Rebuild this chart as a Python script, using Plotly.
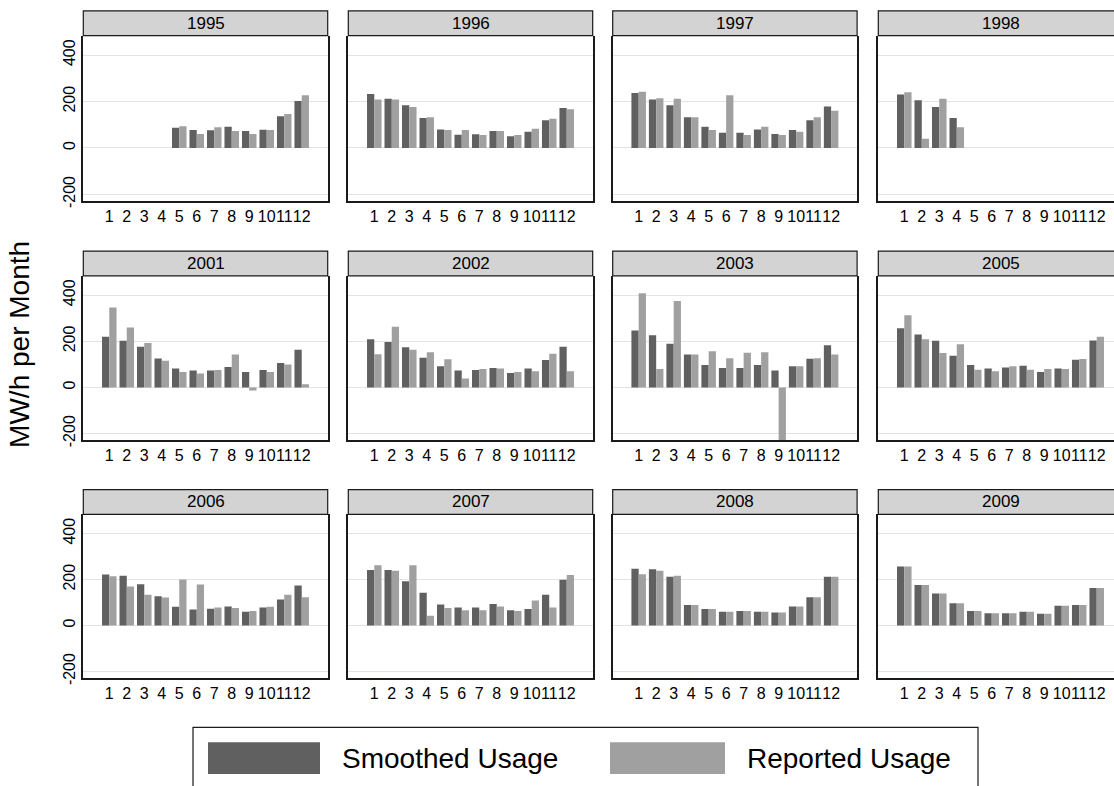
import plotly.graph_objects as go

W, H = 1114, 786

months = list(range(1, 13))
month_labels = [str(m) for m in months]
years = ["1995", "1996", "1997", "1998", "2001", "2002",
         "2003", "2005", "2006", "2007", "2008", "2009"]

# Monthly usage, MW/h per month (None = no observation)
smoothed_1995 = [None, None, None, None, 87, 77, 76, 92, 73, 79, 137, 202]
reported_1995 = [None, None, None, None, 94, 60, 89, 73, 60, 77, 146, 227]
smoothed_1996 = [233, 212, 184, 129, 80, 57, 59, 73, 51, 70, 120, 172]
reported_1996 = [209, 209, 177, 132, 77, 77, 56, 73, 56, 83, 126, 167]
smoothed_1997 = [237, 209, 184, 132, 92, 66, 66, 80, 60, 77, 120, 179]
reported_1997 = [242, 214, 212, 132, 77, 227, 56, 92, 56, 70, 132, 160]
smoothed_1998 = [230, 206, 177, 129, None, None, None, None, None, None, None, None]
reported_1998 = [240, 40, 212, 89, None, None, None, None, None, None, None, None]
smoothed_2001 = [220, 202, 177, 126, 82, 73, 73, 89, 67, 76, 106, 164]
reported_2001 = [347, 260, 193, 116, 67, 61, 76, 143, -13, 67, 100, 14]
smoothed_2002 = [209, 197, 174, 129, 92, 73, 76, 84, 63, 82, 119, 177]
reported_2002 = [144, 263, 164, 153, 122, 39, 80, 82, 67, 70, 146, 70]
smoothed_2003 = [247, 226, 189, 143, 97, 84, 84, 97, 73, 92, 124, 183]
reported_2003 = [408, 80, 375, 143, 157, 127, 150, 153, -320, 92, 127, 143]
smoothed_2005 = [257, 230, 202, 137, 97, 82, 86, 94, 67, 82, 120, 204]
reported_2005 = [313, 209, 149, 187, 77, 70, 92, 77, 80, 80, 123, 220]
smoothed_2006 = [222, 217, 180, 127, 82, 70, 73, 83, 60, 79, 113, 174]
reported_2006 = [215, 170, 134, 122, 200, 179, 79, 76, 63, 82, 134, 123]
smoothed_2007 = [242, 242, 193, 143, 92, 79, 79, 94, 67, 72, 134, 199]
reported_2007 = [263, 239, 263, 43, 76, 67, 67, 83, 63, 109, 79, 220]
smoothed_2008 = [247, 245, 212, 89, 72, 60, 63, 60, 57, 83, 123, 212]
reported_2008 = [223, 239, 217, 89, 72, 60, 63, 60, 57, 83, 123, 212]
smoothed_2009 = [257, 177, 140, 97, 63, 54, 54, 60, 51, 86, 89, 163]
reported_2009 = [257, 177, 140, 97, 63, 54, 54, 60, 51, 86, 89, 163]

smoothed = [smoothed_1995, smoothed_1996, smoothed_1997, smoothed_1998,
            smoothed_2001, smoothed_2002, smoothed_2003, smoothed_2005,
            smoothed_2006, smoothed_2007, smoothed_2008, smoothed_2009]
reported = [reported_1995, reported_1996, reported_1997, reported_1998,
            reported_2001, reported_2002, reported_2003, reported_2005,
            reported_2006, reported_2007, reported_2008, reported_2009]

y_ticks = [-200, 0, 200, 400]
y_tick_labels = ["-200", "0", "200", "400"]
y_range = [-228, 484]

DARK = "#606060"
LIGHT = "#a0a0a0"
FONT = "Liberation Sans, Arial, Helvetica, sans-serif"

# Panel geometry in pixels
col_left = [83.3, 348.3, 612.7, 878.3]
panel_w = 244.4
row_top = [36.0, 278.3, 519.0]
row_bot = [202.7, 444.0, 684.0]
strip_h = 25.0
x_span = 13.97
x0 = -0.485


def px(x):
    return x / W


def py(y):
    return 1 - y / H


fig = go.Figure()
layout = dict(
    width=W, height=H,
    margin=dict(l=0, r=0, t=0, b=0),
    paper_bgcolor="white", plot_bgcolor="white",
    barmode="group", bargap=0.17, bargroupgap=0,
    showlegend=False,
    font=dict(family=FONT, color="black"),
)
shapes = []
annotations = []

for i, year in enumerate(years):
    r, c = divmod(i, 4)
    n = i + 1
    xa = "x" if n == 1 else f"x{n}"
    ya = "y" if n == 1 else f"y{n}"
    fig.add_trace(go.Bar(x=months, y=smoothed[i], xaxis=xa, yaxis=ya,
                         marker=dict(color=DARK, line=dict(width=0)),
                         offsetgroup="s", name="Smoothed Usage"))
    fig.add_trace(go.Bar(x=months, y=reported[i], xaxis=xa, yaxis=ya,
                         marker=dict(color=LIGHT, line=dict(width=0)),
                         offsetgroup="r", name="Reported Usage"))

    left = col_left[c]
    right = min(left + panel_w, W)
    vis_span = x_span * (right - left) / panel_w
    xkey = "xaxis" if n == 1 else f"xaxis{n}"
    ykey = "yaxis" if n == 1 else f"yaxis{n}"
    layout[xkey] = dict(
        domain=[px(left), px(right)], anchor=ya,
        range=[x0, x0 + vis_span], tickmode="array",
        tickvals=months, ticktext=month_labels, tickangle=0,
        tickfont=dict(size=16, family=FONT, color="black"),
        showgrid=False, zeroline=False, ticks="",
        showline=True, linecolor="#1a1a1a", linewidth=1.5,
        fixedrange=True,
    )
    layout[ykey] = dict(
        domain=[py(row_bot[r]), py(row_top[r])], anchor=xa,
        range=y_range, tickmode="array", tickvals=y_ticks,
        ticktext=y_tick_labels,
        showticklabels=(c == 0), tickangle=-90,
        tickfont=dict(size=16, family=FONT, color="black"),
        showgrid=True, gridcolor="#e3e3e3", gridwidth=1,
        zeroline=False, ticks="",
        showline=True, linecolor="#1a1a1a", linewidth=1.5,
        mirror=(c < 3), fixedrange=True,
    )

    # Panel header strip
    shapes.append(dict(type="rect", xref="paper", yref="paper",
                       x0=px(left), x1=px(right) if c < 3 else 1.01,
                       y0=py(row_top[r]), y1=py(row_top[r] - strip_h),
                       fillcolor="#d3d3d3", line=dict(color="#1a1a1a", width=1.2),
                       layer="above"))
    annotations.append(dict(xref="paper", yref="paper",
                            x=px(left + panel_w / 2), y=py(row_top[r] - strip_h / 2),
                            text=year, showarrow=False,
                            xanchor="center", yanchor="middle",
                            font=dict(size=17, family=FONT, color="black")))

# Shared y-axis title
annotations.append(dict(xref="paper", yref="paper", x=px(20), y=py(348),
                        text="MW/h per Month", textangle=-90, showarrow=False,
                        xanchor="center", yanchor="middle",
                        font=dict(size=28, family=FONT, color="black")))

# Legend box with swatches
shapes.append(dict(type="rect", xref="paper", yref="paper",
                   x0=px(193), x1=px(978), y0=py(800), y1=py(734),
                   fillcolor="white", line=dict(color="#1a1a1a", width=1.2)))
legend_items = [("Smoothed Usage", DARK, 208, 320, 340),
                ("Reported Usage", LIGHT, 610, 725, 745)]
for label, color, sx0, sx1, tx in legend_items:
    shapes.append(dict(type="rect", xref="paper", yref="paper",
                       x0=px(sx0), x1=px(sx1), y0=py(781), y1=py(749),
                       fillcolor=color, line=dict(width=0)))
    annotations.append(dict(xref="paper", yref="paper", x=px(tx), y=py(765),
                            text=label, showarrow=False,
                            xanchor="left", yanchor="middle",
                            font=dict(size=28, family=FONT, color="black")))

layout["shapes"] = shapes
layout["annotations"] = annotations
fig.update_layout(**layout)

fig.write_html("out.html")
